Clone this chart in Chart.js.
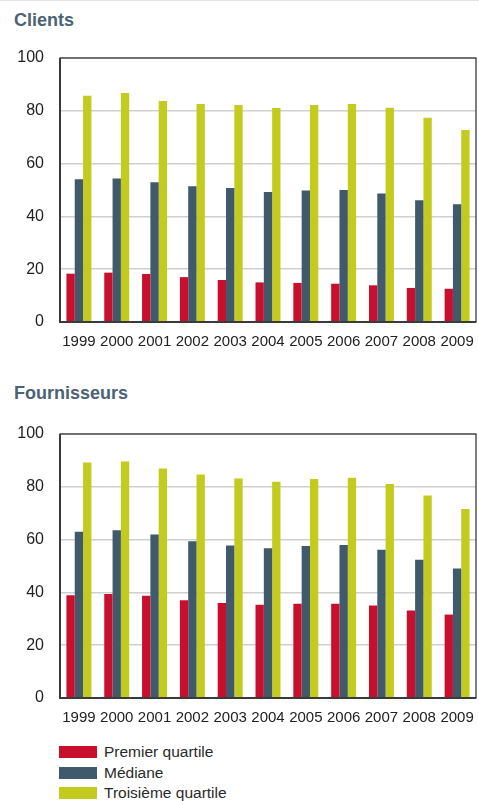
<!DOCTYPE html>
<html>
<head>
<meta charset="utf-8">
<script src="https://cdn.jsdelivr.net/npm/chart.js@4/dist/chart.umd.min.js"></script>
<style>
  body { margin: 0; background: #fff; width: 479px; height: 801px; position: relative; overflow: hidden; }
  .titre { position: absolute; left: 14px; font: bold 18px "Liberation Sans", Arial, sans-serif; color: #4b6374; }
  .graph { position: absolute; left: 0; width: 479px; height: 350px; }
  #legende { position: absolute; left: 59px; top: 742px; font: 15.5px "Liberation Sans Narrow", "Liberation Sans", sans-serif; color: #2a2a2a; }
  #legende div { height: 20.5px; line-height: 20px; display: flex; align-items: center; }
  #legende span.box { display: inline-block; width: 38px; height: 12px; margin-right: 7px; }
  .ligne { position: absolute; left: 0; top: 0; width: 479px; height: 1px; background: #e3e6e9; }
</style>
</head>
<body>
<div class="ligne"></div>
<div class="titre" style="top:10px">Clients</div>
<div class="graph" style="top:0px"><canvas id="clients"></canvas></div>
<div class="titre" style="top:383px">Fournisseurs</div>
<div class="graph" style="top:376px"><canvas id="fournisseurs"></canvas></div>
<div id="legende"></div>
<script>
const annees = ['1999', '2000', '2001', '2002', '2003', '2004', '2005', '2006', '2007', '2008', '2009'];
const series = ['Premier quartile', 'Médiane', 'Troisième quartile'];
const couleurs = ['#c8102e', '#405a6b', '#c2cb1e'];
const yTicks = [0, 20, 40, 60, 80, 100];

// Clients
const clientsQ1 = [18.3, 18.7, 18.2, 17.0, 15.9, 15.0, 14.8, 14.5, 13.9, 12.9, 12.6];
const clientsMed = [54.1, 54.4, 52.9, 51.4, 50.8, 49.2, 49.8, 50.0, 48.7, 46.1, 44.6];
const clientsQ3 = [85.7, 86.7, 83.7, 82.6, 82.2, 81.1, 82.2, 82.6, 81.2, 77.4, 72.7];

// Fournisseurs
const fournQ1 = [38.9, 39.4, 38.7, 37.0, 36.0, 35.3, 35.7, 35.7, 35.0, 33.1, 31.6];
const fournMed = [63.0, 63.5, 61.9, 59.4, 57.8, 56.7, 57.6, 58.0, 56.2, 52.4, 49.1];
const fournQ3 = [89.2, 89.6, 86.9, 84.7, 83.1, 81.9, 83.0, 83.4, 81.1, 76.7, 71.6];

const tickFont = { family: '"Liberation Sans Narrow", "Liberation Sans", sans-serif', size: 15 };

// cadre autour de la zone du graphique
const cadre = {
  id: 'cadre',
  afterDraw(chart) {
    const a = chart.chartArea, ctx = chart.ctx;
    ctx.save();
    ctx.strokeStyle = '#3a3a3a';
    ctx.lineWidth = 1.3;
    ctx.strokeRect(a.left, a.top, a.right - a.left, a.bottom - a.top);
    ctx.lineWidth = 2;
    ctx.beginPath();
    ctx.moveTo(a.left, a.top);
    ctx.lineTo(a.left, a.bottom);
    ctx.lineTo(a.right, a.bottom);
    ctx.stroke();
    ctx.restore();
  }
};

function faireGraph(id, valeurs) {
  new Chart(document.getElementById(id), {
    type: 'bar',
    data: {
      labels: annees,
      datasets: valeurs.map((v, i) => ({
        label: series[i],
        data: v,
        backgroundColor: couleurs[i],
        barPercentage: 1,
        categoryPercentage: 0.66
      }))
    },
    options: {
      responsive: false,
      animation: false,
      layout: { padding: { top: 58, right: 3, left: 0, bottom: 0 } },
      plugins: { legend: { display: false }, tooltip: { enabled: false } },
      scales: {
        x: {
          grid: { display: false },
          border: { display: false },
          ticks: { color: '#222', font: tickFont, padding: 3, maxRotation: 0, autoSkip: false },
          afterFit(s) { s.height = 28; }
        },
        y: {
          min: 0, max: 100,
          afterBuildTicks(s) { s.ticks = yTicks.map(v => ({ value: v })); },
          grid: { color: '#cfcfcf', lineWidth: 1.5, drawTicks: false },
          border: { display: false },
          ticks: { color: '#222', font: { ...tickFont, size: 16 }, padding: 16 },
          afterFit(s) { s.width = 60; }
        }
      }
    },
    plugins: [cadre]
  });
}

for (const id of ['clients', 'fournisseurs']) {
  const c = document.getElementById(id);
  c.width = 479; c.height = 350;
  c.style.width = '479px'; c.style.height = '350px';
}
faireGraph('clients', [clientsQ1, clientsMed, clientsQ3]);
faireGraph('fournisseurs', [fournQ1, fournMed, fournQ3]);

const leg = document.getElementById('legende');
series.forEach((s, i) => {
  const d = document.createElement('div');
  d.innerHTML = '<span class="box" style="background:' + couleurs[i] + '"></span>' + s;
  leg.appendChild(d);
});
</script>
</body>
</html>
